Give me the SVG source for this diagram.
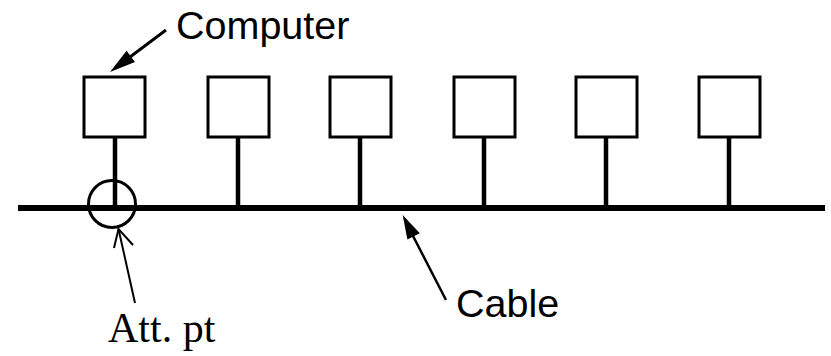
<svg xmlns="http://www.w3.org/2000/svg" width="831" height="356" viewBox="0 0 831 356">
<style>
.box{fill:#fff;stroke:#000;stroke-width:3}
.stem{stroke:#000;stroke-width:4.5}
.sans{font-family:"Liberation Sans",Arial,sans-serif;font-size:39.5px;fill:#000}
.serif{font-family:"Liberation Serif","Times New Roman",serif;font-size:42px;fill:#000}
</style>
<rect width="831" height="356" fill="#fff"/>
<g id="connectors" fill="none" stroke="#000">
<line class="stem" x1="115" y1="137" x2="115" y2="208"/>
<line class="stem" x1="238" y1="137" x2="238" y2="208"/>
<line class="stem" x1="360" y1="137" x2="360" y2="208"/>
<line class="stem" x1="484" y1="137" x2="484" y2="208"/>
<line class="stem" x1="606" y1="137" x2="606" y2="208"/>
<line class="stem" x1="729" y1="137" x2="729" y2="208"/>
</g>
<g id="cable"><line x1="18" y1="208" x2="825" y2="208" stroke="#000" stroke-width="6"/></g>
<g id="computer1"><rect class="box" x="84" y="77" width="61" height="60"/></g>
<g id="computer2"><rect class="box" x="208" y="77" width="61" height="60"/></g>
<g id="computer3"><rect class="box" x="330" y="77" width="61" height="60"/></g>
<g id="computer4"><rect class="box" x="454" y="77" width="61" height="60"/></g>
<g id="computer5"><rect class="box" x="576" y="77" width="61" height="60"/></g>
<g id="computer6"><rect class="box" x="699" y="77" width="61" height="60"/></g>
<g id="attpoint"><circle cx="112" cy="204" r="23.5" fill="none" stroke="#000" stroke-width="3"/></g>
<g id="label-computer">
<text class="sans" x="176" y="39">Computer</text>
<line x1="166" y1="30" x2="128" y2="58.5" stroke="#000" stroke-width="3"/>
<polygon points="110,72 135,62 126.6,50.8" fill="#000"/>
</g>
<g id="label-cable">
<text class="sans" x="456" y="317">Cable</text>
<line x1="446" y1="300" x2="412" y2="234" stroke="#000" stroke-width="2.5"/>
<polygon points="402.7,215 419.8,233.2 407.4,239.6" fill="#000"/>
</g>
<g id="label-attpt">
<text class="serif" x="108" y="342">Att. pt</text>
<line x1="135" y1="303" x2="118.5" y2="229" stroke="#000" stroke-width="2"/>
<polyline points="114,248 118.5,229 133,245" fill="none" stroke="#000" stroke-width="2"/>
</g>
</svg>
